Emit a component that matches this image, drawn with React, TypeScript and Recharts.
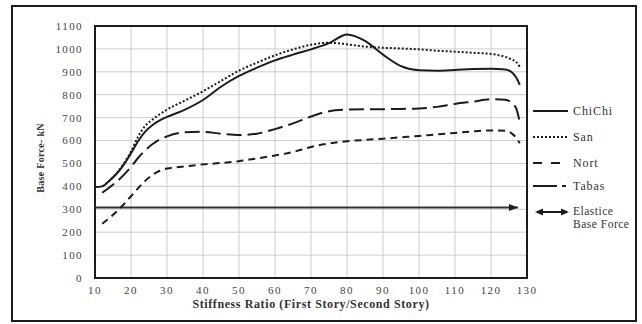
import React from "react";
import {
  LineChart,
  Line,
  XAxis,
  YAxis,
  CartesianGrid,
  ReferenceArea,
} from "recharts";

// Stiffness ratio (first story / second story) sample points
const stiffness = [10, 12, 14, 16, 18, 20, 22, 24, 26, 28, 30, 35, 40, 45, 50, 55, 60, 65, 70, 75, 80, 85, 90, 95, 100, 105, 110, 115, 120, 124, 126, 127, 128];

// Base force (kN) for each ground motion record
const chiChi = [397, 400, 425, 455, 495, 545, 598, 640, 668, 688, 703, 735, 777, 835, 882, 918, 950, 975, 998, 1025, 1063, 1035, 975, 925, 907, 905, 908, 912, 913, 910, 895, 875, 843];
const san = [null, 400, 425, 457, 500, 552, 618, 665, 692, 715, 735, 775, 815, 860, 905, 940, 972, 998, 1018, 1027, 1020, 1010, 1005, 1002, 998, 992, 988, 983, 978, 965, 952, 943, 921];
const nort = [null, 237, 262, 290, 322, 357, 392, 425, 450, 468, 478, 487, 496, 502, 510, 522, 535, 550, 572, 587, 597, 603, 608, 614, 620, 627, 633, 640, 644, 643, 628, 612, 588];
const tabas = [null, 372, 395, 420, 450, 485, 525, 558, 585, 605, 618, 636, 638, 630, 624, 630, 650, 675, 705, 728, 735, 737, 737, 738, 740, 747, 760, 770, 780, 778, 760, 740, 680];

// Elastic base force reference
const elasticRange = [10, 127.5];
const elasticForce = 308;

const xTicks = [10, 20, 30, 40, 50, 60, 70, 80, 90, 100, 110, 120, 130];
const yTicks = [0, 100, 200, 300, 400, 500, 600, 700, 800, 900, 1000, 1100];

const rows = stiffness.map((s, i) => ({
  ratio: s,
  chiChi: chiChi[i],
  san: san[i],
  nort: nort[i],
  tabas: tabas[i],
}));

const elasticRows = elasticRange.map((r) => ({ ratio: r, elastic: elasticForce }));

const INK = "#1c1c1c";
const SERIF = "'Liberation Serif', 'DejaVu Serif', serif";

const tickStyle = {
  fontFamily: SERIF,
  fontSize: 11,
  fill: "#444",
  letterSpacing: 1.4,
};

const ArrowHead = (props: any) => {
  const { cx, cy, index } = props;
  if (index !== elasticRows.length - 1 || cx == null) return <g key={`a${index}`} />;
  return (
    <path
      key={`a${index}`}
      d={`M${cx - 9},${cy - 3.5} L${cx},${cy} L${cx - 9},${cy + 3.5} Z`}
      fill={INK}
    />
  );
};

const legendItems = [
  { name: "ChiChi", y: 111, kind: "solid" },
  { name: "San", y: 137, kind: "dot" },
  { name: "Nort", y: 163, kind: "dash" },
  { name: "Tabas", y: 186, kind: "long" },
];

const LegendSwatch = ({ kind }: { kind: string }) => {
  if (kind === "solid")
    return <line x1={0} y1={5} x2={35} y2={5} stroke={INK} strokeWidth={2} />;
  if (kind === "dot")
    return <line x1={0} y1={5} x2={35} y2={5} stroke={INK} strokeWidth={2} strokeDasharray="2 2" />;
  if (kind === "dash")
    return <line x1={0} y1={5} x2={30} y2={5} stroke={INK} strokeWidth={2} strokeDasharray="9 9" />;
  return <line x1={0} y1={5} x2={34} y2={5} stroke={INK} strokeWidth={2} strokeDasharray="24 5 4 5" />;
};

const legendText = {
  fontFamily: SERIF,
  fontSize: 12,
  color: "#333",
  letterSpacing: 0.9,
  whiteSpace: "nowrap" as const,
};

export default function App() {
  return (
    <div style={{ position: "absolute", left: 0, top: 0, width: 642, height: 324, background: "#fff" }}>
      <div
        style={{
          position: "absolute",
          left: 11,
          top: 5,
          width: 626,
          height: 317,
          border: `2px solid ${INK}`,
          boxSizing: "border-box",
        }}
      />
      <div style={{ position: "absolute", left: 0, top: 0 }}>
        <LineChart
          width={642}
          height={324}
          data={rows}
          margin={{ top: 26, right: 115, bottom: 16, left: 35 }}
        >
          <CartesianGrid stroke="#cdcdcd" strokeWidth={1} />
          <XAxis
            type="number"
            dataKey="ratio"
            domain={[10, 130]}
            ticks={xTicks}
            interval={0}
            height={30}
            tickLine={false}
            axisLine={false}
            tickMargin={2}
            tick={tickStyle}
          />
          <YAxis
            type="number"
            domain={[0, 1100]}
            ticks={yTicks}
            interval={0}
            width={60}
            tickLine={false}
            axisLine={false}
            tickMargin={6}
            tick={tickStyle}
          />
          <ReferenceArea
            x1={10}
            x2={130}
            y1={0}
            y2={1100}
            fill="none"
            fillOpacity={0}
            stroke={INK}
            strokeWidth={2}
            ifOverflow="visible"
          />
          <Line
            dataKey="elastic"
            data={elasticRows}
            stroke="#333"
            strokeWidth={2}
            dot={ArrowHead}
            activeDot={false}
            isAnimationActive={false}
          />
          <Line
            type="monotone"
            dataKey="nort"
            stroke={INK}
            strokeWidth={2}
            strokeDasharray="7 5"
            dot={false}
            isAnimationActive={false}
          />
          <Line
            type="monotone"
            dataKey="tabas"
            stroke={INK}
            strokeWidth={2}
            strokeDasharray="15 6"
            dot={false}
            isAnimationActive={false}
          />
          <Line
            type="monotone"
            dataKey="san"
            stroke={INK}
            strokeWidth={2}
            strokeDasharray="2 2"
            dot={false}
            isAnimationActive={false}
          />
          <Line
            type="monotone"
            dataKey="chiChi"
            stroke={INK}
            strokeWidth={2}
            dot={false}
            isAnimationActive={false}
          />
        </LineChart>
      </div>

      {/* axis titles */}
      <div
        style={{
          position: "absolute",
          left: 41,
          top: 158,
          transform: "translate(-50%, -50%) rotate(-90deg)",
          whiteSpace: "nowrap",
          fontFamily: SERIF,
          fontWeight: "bold",
          fontSize: 10,
          lineHeight: "10px",
          color: "#333",
          letterSpacing: 0.3,
        }}
      >
        Base Force- kN
      </div>
      <div
        style={{
          position: "absolute",
          left: 311,
          top: 304,
          transform: "translate(-50%, -50%)",
          whiteSpace: "nowrap",
          fontFamily: SERIF,
          fontWeight: "bold",
          fontSize: 12,
          lineHeight: "12px",
          color: "#333",
          letterSpacing: 0.6,
        }}
      >
        Stiffness Ratio (First Story/Second Story)
      </div>

      {/* legend */}
      {legendItems.map((it) => (
        <div key={it.name} style={{ position: "absolute", left: 533, top: it.y - 7, height: 14, display: "flex", alignItems: "center" }}>
          <svg width={36} height={10} style={{ display: "block" }}>
            <LegendSwatch kind={it.kind} />
          </svg>
          <span style={{ marginLeft: 4, lineHeight: "12px", ...legendText }}>{it.name}</span>
        </div>
      ))}
      <div style={{ position: "absolute", left: 535, top: 207 }}>
        <svg width={34} height={10} style={{ display: "block" }}>
          <line x1={4} y1={5} x2={30} y2={5} stroke={INK} strokeWidth={2} />
          <path d="M0,5 L8,1.5 L8,8.5 Z" fill={INK} />
          <path d="M34,5 L26,1.5 L26,8.5 Z" fill={INK} />
        </svg>
      </div>
      <div style={{ position: "absolute", left: 573, top: 205, lineHeight: "13px", ...legendText, fontSize: 11.5, letterSpacing: 0.5 }}>
        <div>Elastice</div>
        <div>Base Force</div>
      </div>
    </div>
  );
}
